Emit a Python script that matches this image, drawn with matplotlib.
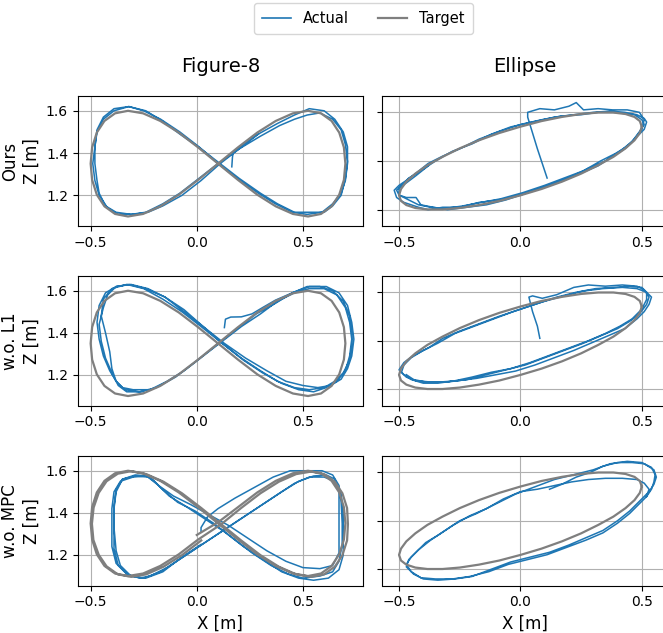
import numpy as np
import matplotlib
matplotlib.use("Agg")
import matplotlib.pyplot as plt
from matplotlib.lines import Line2D

# ---------------- data ----------------
col_titles = ["Figure-8", "Ellipse"]
row_labels = ["Ours\nZ [m]", "w.o. L1\nZ [m]", "w.o. MPC\nZ [m]"]
x_ticks = [-0.5, 0.0, 0.5]
y_ticks = [1.2, 1.4, 1.6]

fig8_target = [
    (0.100, 1.350), (0.194, 1.427), (0.285, 1.497), (0.372, 1.552), (0.453, 1.588),
    (0.524, 1.600), (0.585, 1.588), (0.635, 1.552), (0.671, 1.497), (0.693, 1.427),
    (0.700, 1.350), (0.693, 1.273), (0.671, 1.203), (0.635, 1.148), (0.585, 1.112),
    (0.524, 1.100), (0.453, 1.112), (0.372, 1.148), (0.285, 1.203), (0.194, 1.273),
    (0.100, 1.350), (0.006, 1.427), (-0.085, 1.497), (-0.172, 1.552), (-0.253, 1.588),
    (-0.324, 1.600), (-0.385, 1.588), (-0.435, 1.552), (-0.471, 1.497), (-0.493, 1.427),
    (-0.500, 1.350), (-0.493, 1.273), (-0.471, 1.203), (-0.435, 1.148), (-0.385, 1.112),
    (-0.324, 1.100), (-0.253, 1.112), (-0.172, 1.148), (-0.085, 1.203), (0.006, 1.273),
    (0.100, 1.350),
]

fig8_target_mpc = [
    (0.000, 1.295), (0.100, 1.355), (0.194, 1.427), (0.285, 1.497), (0.372, 1.552),
    (0.453, 1.588), (0.524, 1.600), (0.585, 1.588), (0.635, 1.552), (0.671, 1.497),
    (0.693, 1.427), (0.700, 1.350), (0.693, 1.273), (0.671, 1.203), (0.635, 1.148),
    (0.585, 1.112), (0.524, 1.100), (0.453, 1.112), (0.372, 1.148), (0.285, 1.203),
    (0.194, 1.273), (0.100, 1.350), (0.006, 1.427), (-0.085, 1.497), (-0.172, 1.552),
    (-0.253, 1.588), (-0.324, 1.600), (-0.385, 1.588), (-0.435, 1.552), (-0.471, 1.497),
    (-0.493, 1.427), (-0.500, 1.350), (-0.493, 1.273), (-0.471, 1.203), (-0.435, 1.148),
    (-0.385, 1.112), (-0.324, 1.100), (-0.253, 1.112), (-0.172, 1.148), (-0.085, 1.203),
    (0.006, 1.273), (0.115, 1.346), (0.209, 1.423), (0.300, 1.493), (0.387, 1.548),
    (0.468, 1.584), (0.539, 1.596), (0.600, 1.584), (0.650, 1.548), (0.686, 1.493),
    (0.708, 1.423), (0.712, 1.346), (0.708, 1.269), (0.686, 1.199), (0.650, 1.144),
    (0.600, 1.108), (0.539, 1.096), (0.468, 1.108), (0.387, 1.144), (0.300, 1.199),
    (0.209, 1.269), (0.115, 1.346), (0.021, 1.423), (-0.070, 1.493), (-0.157, 1.548),
    (-0.238, 1.584), (-0.309, 1.598), (-0.372, 1.586), (-0.425, 1.550), (-0.462, 1.495),
    (-0.486, 1.425), (-0.494, 1.348), (-0.487, 1.271), (-0.462, 1.201), (-0.425, 1.146),
    (-0.372, 1.108), (-0.309, 1.096), (-0.238, 1.108), (-0.157, 1.144), (-0.070, 1.199),
    (0.021, 1.269),
]

ellipse_target = [
    (0.500, 1.541), (0.492, 1.564), (0.470, 1.581), (0.433, 1.593), (0.383, 1.599),
    (0.321, 1.599), (0.250, 1.593), (0.171, 1.581), (0.087, 1.564), (0.000, 1.541),
    (-0.087, 1.515), (-0.171, 1.485), (-0.250, 1.452), (-0.321, 1.417), (-0.383, 1.383),
    (-0.433, 1.348), (-0.470, 1.315), (-0.492, 1.285), (-0.500, 1.259), (-0.492, 1.236),
    (-0.470, 1.219), (-0.433, 1.207), (-0.383, 1.201), (-0.321, 1.201), (-0.250, 1.207),
    (-0.171, 1.219), (-0.087, 1.236), (0.000, 1.259), (0.087, 1.285), (0.171, 1.315),
    (0.250, 1.348), (0.321, 1.383), (0.383, 1.417), (0.433, 1.452), (0.470, 1.485),
    (0.492, 1.515), (0.500, 1.541),
]

ours_fig8 = [
    (0.165, 1.335), (0.168, 1.380), (0.172, 1.405),
    (0.19, 1.42), (0.29, 1.49), (0.38, 1.54), (0.46, 1.58), (0.53, 1.61), (0.60, 1.60),
    (0.65, 1.56), (0.69, 1.50), (0.71, 1.43), (0.71, 1.35), (0.70, 1.27), (0.68, 1.21),
    (0.64, 1.16), (0.59, 1.12), (0.52, 1.11), (0.45, 1.12), (0.37, 1.16), (0.29, 1.21),
    (0.19, 1.28), (0.10, 1.35), (0.01, 1.43), (-0.08, 1.50), (-0.17, 1.56), (-0.25, 1.60),
    (-0.32, 1.62), (-0.39, 1.61), (-0.44, 1.57), (-0.47, 1.51), (-0.48, 1.43), (-0.48, 1.35),
    (-0.47, 1.27), (-0.46, 1.21), (-0.43, 1.15), (-0.38, 1.12), (-0.31, 1.11), (-0.24, 1.12),
    (-0.16, 1.16), (-0.08, 1.21), (0.01, 1.28), (0.10, 1.35),
    (0.20, 1.42), (0.30, 1.48), (0.39, 1.53), (0.46, 1.56), (0.52, 1.58), (0.58, 1.59),
    (0.64, 1.56), (0.68, 1.51), (0.70, 1.44), (0.71, 1.36), (0.70, 1.28), (0.68, 1.20),
    (0.64, 1.15), (0.60, 1.12), (0.53, 1.12), (0.46, 1.12), (0.38, 1.16), (0.30, 1.21),
    (0.20, 1.28), (0.11, 1.35), (0.02, 1.42), (-0.08, 1.49), (-0.16, 1.55), (-0.24, 1.60),
    (-0.32, 1.62), (-0.39, 1.60), (-0.44, 1.56), (-0.47, 1.50), (-0.48, 1.43), (-0.49, 1.35),
    (-0.48, 1.27), (-0.46, 1.20), (-0.42, 1.14), (-0.37, 1.11), (-0.30, 1.11), (-0.23, 1.12),
    (-0.16, 1.15), (-0.07, 1.20), (0.02, 1.27), (0.11, 1.35), (0.20, 1.42), (0.29, 1.49),
]

l1_fig8 = [
    (0.13, 1.425), (0.135, 1.465), (0.16, 1.475), (0.21, 1.476), (0.26, 1.49), (0.31, 1.52),
    (0.37, 1.555), (0.45, 1.59), (0.52, 1.62), (0.58, 1.62), (0.64, 1.60), (0.69, 1.55),
    (0.72, 1.48), (0.73, 1.41), (0.73, 1.34), (0.72, 1.27), (0.69, 1.21), (0.65, 1.17),
    (0.60, 1.14), (0.53, 1.13), (0.46, 1.14), (0.38, 1.17), (0.30, 1.22), (0.21, 1.28),
    (0.12, 1.35), (0.03, 1.43), (-0.06, 1.51), (-0.15, 1.57), (-0.24, 1.61), (-0.32, 1.63),
    (-0.38, 1.62), (-0.43, 1.59), (-0.46, 1.53), (-0.47, 1.45), (-0.46, 1.37), (-0.44, 1.29),
    (-0.41, 1.22), (-0.38, 1.17), (-0.35, 1.14), (-0.30, 1.13), (-0.22, 1.13), (-0.14, 1.17),
    (-0.06, 1.22), (0.03, 1.29), (0.12, 1.36),
    (0.21, 1.43), (0.30, 1.49), (0.38, 1.55), (0.46, 1.59), (0.53, 1.61), (0.60, 1.61),
    (0.66, 1.58), (0.70, 1.52), (0.72, 1.45), (0.73, 1.37), (0.72, 1.29), (0.70, 1.22),
    (0.66, 1.17), (0.61, 1.14), (0.55, 1.12), (0.48, 1.13), (0.40, 1.16), (0.31, 1.21),
    (0.22, 1.27), (0.12, 1.35), (0.02, 1.43), (-0.07, 1.50), (-0.16, 1.56), (-0.25, 1.61),
    (-0.33, 1.63), (-0.40, 1.61), (-0.44, 1.56), (-0.45, 1.48), (-0.43, 1.40), (-0.41, 1.31),
    (-0.40, 1.23), (-0.38, 1.17), (-0.34, 1.13), (-0.27, 1.12), (-0.19, 1.14), (-0.10, 1.19),
    (-0.01, 1.26), (0.09, 1.34),
    (0.19, 1.42), (0.28, 1.49), (0.37, 1.54), (0.45, 1.59), (0.53, 1.62), (0.61, 1.62),
    (0.67, 1.59), (0.71, 1.53), (0.73, 1.45), (0.74, 1.37), (0.73, 1.29), (0.71, 1.23),
    (0.68, 1.18), (0.63, 1.15), (0.57, 1.14), (0.50, 1.15), (0.42, 1.17), (0.33, 1.22),
    (0.23, 1.28), (0.13, 1.35), (0.03, 1.43), (-0.06, 1.50), (-0.15, 1.57), (-0.23, 1.61),
    (-0.31, 1.63), (-0.38, 1.62), (-0.42, 1.58), (-0.44, 1.52), (-0.46, 1.44), (-0.45, 1.36),
    (-0.43, 1.28), (-0.40, 1.21), (-0.37, 1.15), (-0.33, 1.12), (-0.25, 1.12),
]

mpc_fig8 = [
    (0.02, 1.31), (0.02, 1.33), (0.05, 1.38), (0.10, 1.42), (0.18, 1.47), (0.27, 1.52),
    (0.36, 1.57), (0.44, 1.60), (0.52, 1.60), (0.59, 1.60), (0.64, 1.58), (0.67, 1.53),
    (0.68, 1.45), (0.685, 1.35), (0.685, 1.25), (0.67, 1.17), (0.64, 1.12), (0.58, 1.10),
    (0.50, 1.09), (0.43, 1.11), (0.35, 1.15), (0.26, 1.21), (0.17, 1.28), (0.08, 1.35),
    (-0.01, 1.41), (-0.09, 1.45), (-0.16, 1.51), (-0.21, 1.56), (-0.24, 1.575), (-0.30, 1.57),
    (-0.36, 1.55), (-0.39, 1.50), (-0.40, 1.42), (-0.40, 1.33), (-0.40, 1.24), (-0.38, 1.16),
    (-0.33, 1.11), (-0.27, 1.09), (-0.22, 1.10), (-0.14, 1.14), (-0.05, 1.20), (0.04, 1.26),
    (0.13, 1.32), (0.22, 1.38), (0.31, 1.44), (0.40, 1.50), (0.48, 1.55), (0.55, 1.575),
    (0.61, 1.58), (0.65, 1.56), (0.67, 1.50), (0.67, 1.40), (0.67, 1.30), (0.67, 1.21),
    (0.64, 1.15), (0.58, 1.135), (0.50, 1.14), (0.42, 1.17), (0.33, 1.22), (0.24, 1.28),
    (0.15, 1.34), (0.06, 1.39), (-0.03, 1.44), (-0.11, 1.48), (-0.18, 1.53), (-0.23, 1.57),
    (-0.29, 1.575), (-0.35, 1.56), (-0.38, 1.51), (-0.39, 1.43), (-0.39, 1.33), (-0.39, 1.23),
    (-0.37, 1.15), (-0.32, 1.10), (-0.25, 1.09), (-0.17, 1.12), (-0.08, 1.18), (0.01, 1.24),
    (0.10, 1.30), (0.19, 1.36), (0.28, 1.42), (0.37, 1.48), (0.46, 1.54), (0.53, 1.57),
    (0.60, 1.57), (0.65, 1.55), (0.68, 1.49), (0.69, 1.40), (0.69, 1.30), (0.69, 1.20),
    (0.67, 1.13), (0.62, 1.09), (0.55, 1.08), (0.48, 1.09), (0.40, 1.12), (0.31, 1.18),
    (0.22, 1.24), (0.13, 1.31), (0.04, 1.37), (-0.05, 1.43), (-0.13, 1.48), (-0.19, 1.54),
    (-0.23, 1.575), (-0.29, 1.58), (-0.35, 1.56), (-0.38, 1.50), (-0.39, 1.42), (-0.39, 1.33),
    (-0.38, 1.22), (-0.36, 1.15), (-0.31, 1.10), (-0.24, 1.09), (-0.16, 1.12), (-0.07, 1.19),
    (0.02, 1.25),
]

ours_ellipse = [
    (0.11, 1.33), (0.07, 1.45), (0.03, 1.58), (0.03, 1.60), (0.08, 1.615), (0.14, 1.61),
    (0.20, 1.625), (0.23, 1.64), (0.26, 1.61), (0.32, 1.615), (0.38, 1.61), (0.44, 1.61),
    (0.49, 1.60), (0.51, 1.57), (0.50, 1.53), (0.47, 1.49), (0.43, 1.45), (0.38, 1.42),
    (0.32, 1.38), (0.25, 1.35), (0.17, 1.32), (0.09, 1.29), (0.00, 1.26), (-0.09, 1.24),
    (-0.17, 1.23), (-0.25, 1.21), (-0.32, 1.21), (-0.38, 1.20), (-0.42, 1.21), (-0.45, 1.22),
    (-0.48, 1.23), (-0.51, 1.25), (-0.52, 1.28), (-0.50, 1.30), (-0.47, 1.32), (-0.43, 1.35),
    (-0.38, 1.39), (-0.32, 1.42), (-0.25, 1.45), (-0.17, 1.49), (-0.09, 1.52), (0.00, 1.55),
    (0.09, 1.57), (0.17, 1.585), (0.25, 1.59), (0.32, 1.60), (0.38, 1.60), (0.43, 1.595),
    (0.47, 1.59), (0.50, 1.57), (0.51, 1.55), (0.49, 1.52), (0.46, 1.48), (0.41, 1.44),
    (0.35, 1.40), (0.28, 1.37), (0.20, 1.33), (0.12, 1.30), (0.03, 1.27), (-0.06, 1.24),
    (-0.14, 1.22), (-0.22, 1.21), (-0.30, 1.20), (-0.36, 1.21), (-0.41, 1.22), (-0.43, 1.25),
    (-0.47, 1.25), (-0.50, 1.26), (-0.51, 1.28), (-0.49, 1.30), (-0.46, 1.33), (-0.41, 1.36),
    (-0.35, 1.40), (-0.28, 1.44), (-0.20, 1.47), (-0.12, 1.51), (-0.04, 1.54), (0.05, 1.56),
    (0.14, 1.58), (0.22, 1.59), (0.30, 1.60), (0.37, 1.605), (0.43, 1.60), (0.48, 1.59),
    (0.51, 1.575), (0.52, 1.56), (0.51, 1.53), (0.48, 1.50), (0.44, 1.46), (0.39, 1.43),
    (0.33, 1.40), (0.26, 1.36), (0.18, 1.33), (0.10, 1.30), (0.01, 1.27), (-0.08, 1.245),
    (-0.16, 1.23), (-0.24, 1.215), (-0.31, 1.205), (-0.37, 1.21), (-0.42, 1.22), (-0.46, 1.24),
    (-0.50, 1.26), (-0.50, 1.29), (-0.47, 1.31), (-0.43, 1.34), (-0.38, 1.38),
]

l1_ellipse = [
    (0.08, 1.41), (0.07, 1.46), (0.05, 1.52), (0.035, 1.58), (0.05, 1.585), (0.09, 1.575),
    (0.15, 1.59), (0.22, 1.62), (0.28, 1.63), (0.35, 1.625), (0.42, 1.63), (0.48, 1.625),
    (0.51, 1.61), (0.53, 1.58), (0.52, 1.55), (0.49, 1.51), (0.45, 1.48), (0.40, 1.45),
    (0.33, 1.42), (0.26, 1.39), (0.18, 1.36), (0.10, 1.33), (0.02, 1.30), (-0.06, 1.28),
    (-0.14, 1.26), (-0.22, 1.24), (-0.30, 1.23), (-0.37, 1.23), (-0.43, 1.235), (-0.47, 1.25),
    (-0.49, 1.27), (-0.48, 1.30), (-0.45, 1.33), (-0.40, 1.36), (-0.34, 1.39), (-0.27, 1.43),
    (-0.19, 1.46), (-0.11, 1.49), (-0.03, 1.52), (0.06, 1.55), (0.15, 1.58), (0.23, 1.60),
    (0.31, 1.615), (0.39, 1.62), (0.45, 1.625), (0.50, 1.62), (0.52, 1.60), (0.52, 1.57),
    (0.50, 1.53), (0.46, 1.49), (0.41, 1.46), (0.35, 1.43), (0.28, 1.40), (0.20, 1.37),
    (0.12, 1.34), (0.04, 1.31), (-0.04, 1.285), (-0.12, 1.27), (-0.20, 1.25), (-0.27, 1.235),
    (-0.34, 1.225), (-0.40, 1.225), (-0.45, 1.24), (-0.48, 1.26), (-0.50, 1.28), (-0.48, 1.31),
    (-0.44, 1.34), (-0.38, 1.37), (-0.32, 1.41), (-0.25, 1.44), (-0.17, 1.47), (-0.09, 1.50),
    (0.00, 1.53), (0.09, 1.56), (0.18, 1.585), (0.26, 1.605), (0.34, 1.615), (0.42, 1.62),
    (0.48, 1.615), (0.52, 1.60), (0.54, 1.58), (0.53, 1.55), (0.51, 1.52), (0.48, 1.49),
    (0.43, 1.45), (0.36, 1.42), (0.29, 1.39), (0.22, 1.36), (0.14, 1.33), (0.06, 1.30),
    (-0.02, 1.275), (-0.10, 1.26), (-0.18, 1.245), (-0.26, 1.235), (-0.33, 1.23), (-0.39, 1.23),
    (-0.44, 1.24), (-0.47, 1.26),
]

mpc_ellipse = [
    (0.12, 1.53), (0.17, 1.55), (0.23, 1.58), (0.29, 1.60), (0.34, 1.625), (0.40, 1.64),
    (0.46, 1.64), (0.51, 1.635), (0.55, 1.61), (0.56, 1.58), (0.55, 1.55), (0.53, 1.52),
    (0.50, 1.49), (0.45, 1.44), (0.40, 1.40), (0.34, 1.36), (0.27, 1.33), (0.20, 1.30),
    (0.12, 1.27), (0.04, 1.25), (-0.04, 1.23), (-0.12, 1.20), (-0.20, 1.17), (-0.27, 1.16),
    (-0.34, 1.155), (-0.40, 1.16), (-0.44, 1.18), (-0.47, 1.21), (-0.46, 1.24), (-0.43, 1.27),
    (-0.39, 1.31), (-0.34, 1.34), (-0.28, 1.38), (-0.21, 1.42), (-0.14, 1.45), (-0.07, 1.49),
    (0.00, 1.52), (0.07, 1.53), (0.14, 1.545), (0.21, 1.56), (0.28, 1.57), (0.35, 1.575),
    (0.42, 1.575), (0.48, 1.57), (0.51, 1.555), (0.53, 1.53), (0.52, 1.50), (0.49, 1.47),
    (0.45, 1.43), (0.40, 1.39), (0.34, 1.35), (0.27, 1.32), (0.19, 1.29), (0.11, 1.26),
    (0.03, 1.24), (-0.05, 1.22), (-0.13, 1.19), (-0.21, 1.17), (-0.28, 1.16), (-0.35, 1.16),
    (-0.41, 1.165), (-0.45, 1.19), (-0.47, 1.22), (-0.45, 1.25), (-0.42, 1.28), (-0.37, 1.32),
    (-0.31, 1.36), (-0.25, 1.40), (-0.18, 1.43), (-0.10, 1.47), (-0.02, 1.51), (0.06, 1.54),
    (0.14, 1.57), (0.22, 1.59), (0.30, 1.61), (0.37, 1.635), (0.44, 1.645), (0.50, 1.64),
    (0.54, 1.62), (0.555, 1.59), (0.55, 1.56), (0.54, 1.53), (0.52, 1.50),
]

actual_series = [[ours_fig8, ours_ellipse], [l1_fig8, l1_ellipse], [mpc_fig8, mpc_ellipse]]
target_series = [[fig8_target, ellipse_target], [fig8_target, ellipse_target],
                 [fig8_target_mpc, ellipse_target]]

# ---------------- layout ----------------
W, H = 663, 633
fig = plt.figure(figsize=(W / 100, H / 100), dpi=100)

col_px = [(77.7, 363.0), (382.3, 667.5)]
row_px = [(96.0, 226.0), (276.0, 405.5), (456.0, 585.5)]
xlims = [(-0.561, 0.783), (-0.569, 0.606)]
ylims = [(1.055, 1.670), (1.133, 1.667)]

blue = "#1f77b4"
gray = "#7f7f7f"

for r in range(3):
    for c in range(2):
        x0, x1 = col_px[c]
        y0, y1 = row_px[r]
        ax = fig.add_axes([x0 / W, 1 - y1 / H, (x1 - x0) / W, (y1 - y0) / H])
        act = np.array(actual_series[r][c])
        tgt = np.array(target_series[r][c])
        ax.plot(act[:, 0], act[:, 1], color=blue, lw=1.1, zorder=2)
        ax.plot(tgt[:, 0], tgt[:, 1], color=gray, lw=1.6, zorder=3)
        ax.set_xlim(*xlims[c])
        ax.set_ylim(*ylims[c])
        ax.set_xticks(x_ticks)
        ax.set_yticks(y_ticks)
        ax.grid(True, color="#b0b0b0", lw=0.8)
        ax.set_axisbelow(True)
        ax.tick_params(labelsize=10)
        if c == 0:
            ax.set_ylabel(row_labels[r], fontsize=12)
        else:
            ax.tick_params(labelleft=False)
        if r == 2:
            ax.set_xlabel("X [m]", fontsize=12)

for c in range(2):
    x0, x1 = col_px[c]
    fig.text((x0 + x1) / 2 / W, 1 - 66 / H, col_titles[c], ha="center", va="center",
             fontsize=14)

handles = [Line2D([], [], color=blue, lw=1.2), Line2D([], [], color=gray, lw=1.6)]
fig.legend(handles, ["Actual", "Target"], loc="upper center", ncol=2,
           bbox_to_anchor=(0.548, 0.997), fontsize=10.5, borderpad=0.55,
           borderaxespad=0.1, frameon=True)

fig.savefig("out.png", dpi=100)
